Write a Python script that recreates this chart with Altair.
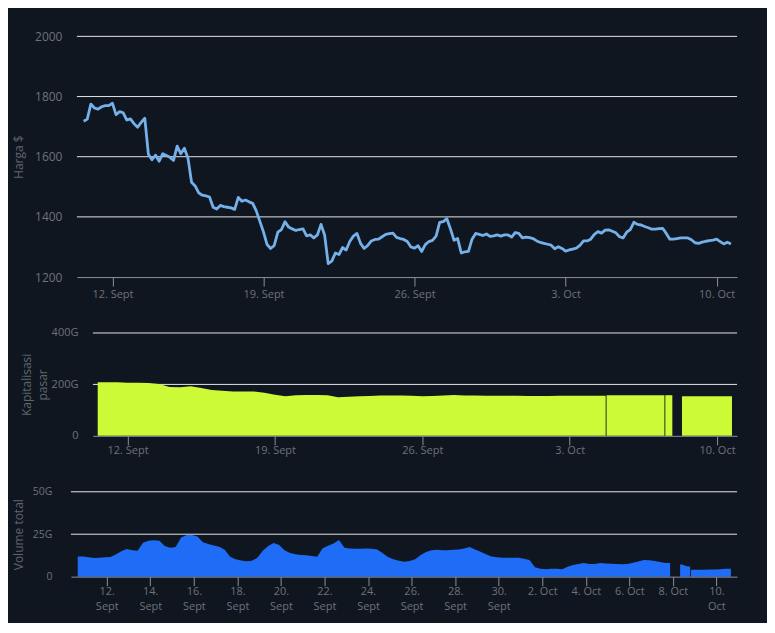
import altair as alt
import pandas as pd

# ---------------- data ----------------
price_start = "2022-09-10 16:00"   # 4-hourly samples
price_values = [
    1718, 1725, 1775, 1762, 1758, 1766, 1770, 1770, 1778, 1740,
    1750, 1746, 1722, 1726, 1710, 1698, 1714, 1728, 1608, 1590,
    1605, 1585, 1610, 1604, 1598, 1588, 1635, 1610, 1628, 1596,
    1515, 1503, 1480, 1472, 1470, 1466, 1432, 1426, 1438, 1434,
    1432, 1430, 1425, 1465, 1452, 1456, 1450, 1445, 1420, 1385,
    1350, 1308, 1295, 1305, 1349, 1358, 1384, 1366, 1360, 1355,
    1358, 1360, 1337, 1340, 1330, 1340, 1375, 1340, 1245, 1253,
    1280, 1275, 1298, 1290, 1318, 1336, 1345, 1312, 1295, 1305,
    1320, 1325, 1326, 1334, 1342, 1344, 1346, 1332, 1328, 1325,
    1318, 1300, 1296, 1304, 1285, 1308, 1318, 1322, 1336, 1382,
    1384, 1394, 1360, 1322, 1328, 1280, 1284, 1285, 1326, 1345,
    1342, 1338, 1343, 1335, 1337, 1340, 1336, 1340, 1340, 1333,
    1348, 1345, 1330, 1333, 1331, 1328, 1320, 1315, 1312, 1309,
    1306, 1294, 1301, 1295, 1286, 1290, 1293, 1296, 1305, 1320,
    1320, 1326, 1342, 1351, 1346, 1356, 1357, 1352, 1347, 1334,
    1330, 1349, 1358, 1382, 1375, 1373, 1368, 1364, 1359, 1359,
    1361, 1362, 1345, 1326, 1326, 1328, 1330, 1330, 1330, 1324,
    1314, 1312, 1316, 1319, 1321, 1323, 1326, 1318, 1310, 1316,
    1310,
]

mcap_start = "2022-09-10 12:00"    # 12-hourly samples, in G
mcap_values = [
    204, 208, 208, 206, 206, 205, 202, 190, 189, 193,
    186, 178, 175, 172, 172, 172, 168, 160, 154, 158,
    159, 159, 158, 150, 152, 154, 155, 157, 157, 157,
    156, 154, 155, 157, 159, 157, 157, 156, 156, 156,
    156, 155, 155, 155, 156, 156, 156, 156, 156, 158,
    158, 158, 158, 158, 158, None, 154, 154, 154, 154,
    154,
]
mcap_spans = [
    ("2022-09-10 14:00", "2022-10-04 17:00"),
    ("2022-10-04 18:00", "2022-10-07 12:00"),
    ("2022-10-07 13:00", "2022-10-07 21:00"),
    ("2022-10-08 08:00", "2022-10-10 17:00"),
]

vol_start = "2022-09-10 16:00"     # 6-hourly samples, in G
vol_values = [
    11.6, 11.8, 11.4, 11.0, 11.2, 11.4, 11.6, 13.0, 15.0, 16.3,
    15.6, 15.3, 20.0, 21.2, 21.4, 21.2, 18.0, 17.0, 17.4, 23.0,
    24.5, 24.6, 23.6, 20.2, 19.2, 18.4, 17.6, 15.8, 11.7, 10.2,
    9.5, 9.1, 9.3, 11.2, 15.3, 18.0, 19.8, 18.6, 15.6, 14.0,
    13.2, 12.8, 12.6, 12.2, 11.7, 16.8, 18.2, 19.6, 21.6, 17.0,
    16.6, 16.5, 16.5, 16.6, 16.5, 16.0, 14.0, 11.6, 10.3, 9.4,
    8.8, 9.2, 10.2, 12.8, 14.5, 15.6, 15.8, 15.6, 15.5, 15.8,
    16.0, 16.6, 17.4, 16.0, 14.6, 13.2, 11.8, 11.4, 11.2, 11.2,
    11.2, 11.2, 10.6, 9.8, 5.6, 4.6, 4.4, 4.6, 4.7, 4.4,
    5.8, 6.8, 7.4, 8.0, 7.5, 7.4, 8.0, 7.8, 7.6, 7.5,
    7.3, 7.4, 8.2, 9.0, 9.8, 9.6, 9.2, 8.6, 8.0, None,
    None, 7.2, 6.0, 4.1, 4.0, 4.1, 4.2, 4.2, 4.4, 4.6,
    5.0,
]
vol_spans = [
    ("2022-09-10 16:00", "2022-10-07 21:00"),
    ("2022-10-08 08:00", "2022-10-08 19:00"),
    ("2022-10-08 20:00", "2022-10-10 16:00"),
]

weekly_ticks = ["2022-09-12", "2022-09-19", "2022-09-26", "2022-10-03", "2022-10-10"]
twoday_ticks = ["2022-09-12", "2022-09-14", "2022-09-16", "2022-09-18", "2022-09-20",
                "2022-09-22", "2022-09-24", "2022-09-26", "2022-09-28", "2022-09-30",
                "2022-10-02", "2022-10-04", "2022-10-06", "2022-10-08", "2022-10-10"]
price_ticks = [1200, 1400, 1600, 1800, 2000]
mcap_ticks = [0, 200, 400]
vol_ticks = [0, 25, 50]

# ---------------- styling ----------------
BG = "#10161f"
GRID = "#e2e4e8"
AXIS = "#8b9099"
LAB = "#6d727b"
TIT = "#5f656e"
PRICE = "#74b0ea"
MCAP = "#cdfa37"
VOL = "#1f6cf7"
FONT = "Open Sans"
W = 667


def dt(s):
    t = pd.Timestamp(s)
    return alt.DateTime(year=t.year, month=t.month, date=t.day, hours=t.hour, minutes=t.minute)


X0 = dt("2022-09-10 08:30")
X1 = dt("2022-10-10 22:45")


def build_segments(start, freq, values, spans):
    times = pd.date_range(start, periods=len(values), freq=freq)
    valid = [(t, v) for t, v in zip(times, values) if v is not None]
    rows = []
    for si, (s, e) in enumerate(spans):
        s, e = pd.Timestamp(s), pd.Timestamp(e)
        inside = [(t, v) for t, v in valid if s < t < e]
        pool = inside if inside else valid

        def near(x):
            return min(pool, key=lambda tv: abs((tv[0] - x).total_seconds()))[1]

        rows.append((s, near(s), si))
        rows.extend((t, v, si) for t, v in inside)
        rows.append((e, near(e), si))
    return pd.DataFrame(rows, columns=["t", "v", "seg"])


price_df = pd.DataFrame({"t": pd.date_range(price_start, periods=len(price_values), freq="4h"),
                         "v": price_values})
mcap_df = build_segments(mcap_start, "12h", mcap_values, mcap_spans)
vol_df = build_segments(vol_start, "6h", vol_values, vol_spans)

MON = "(month(datum.value) == 8 ? 'Sept' : 'Oct')"
ONE_LINE = "date(datum.value) + '. ' + " + MON
TWO_LINE = ("date(datum.value) >= 10 ? [date(datum.value) + '.', " + MON + "] : "
            "date(datum.value) + '. ' + " + MON)


def panel(df, kind, yticks, height, xoff, xticks, xexpr, xpad, yexpr, ytitle,
          ysize, ypad, title_x):
    xscale = alt.Scale(domain=[X0, X1], range=[xoff, W])
    yscale = alt.Scale(domain=[yticks[0], yticks[-1]], nice=False, zero=False)
    xaxis = alt.Axis(values=[dt(v) for v in xticks], labelExpr=xexpr, title=None, grid=False,
                     domainColor=AXIS, tickColor=AXIS, tickSize=9, labelColor=LAB,
                     labelFontSize=11, labelPadding=xpad, labelOverlap=False,
                     labelFlush=False, labelBaseline="top", labelLineHeight=15, zindex=1)
    yaxis = alt.Axis(values=yticks, labelExpr=yexpr, title=ytitle, grid=False, domain=False,
                     ticks=False, tickSize=0, labelPadding=ypad, labelColor=LAB,
                     labelFontSize=ysize, labelBaseline="middle", titleColor=TIT,
                     titleFontSize=12, titleFontWeight="normal", titleX=title_x,
                     titleY=height / 2, titleAngle=270, titleAlign="center",
                     titleBaseline="middle", titleLineHeight=16)
    grid_df = pd.DataFrame({"v": yticks[1:]})
    grid = alt.Chart(grid_df).mark_rule(color=GRID, strokeWidth=1).encode(
        x=alt.XDatum(X0, type="temporal", scale=xscale, axis=xaxis),
        x2=alt.X2Datum(X1),
        y=alt.Y("v:Q", scale=yscale, axis=yaxis),
    )
    enc = dict(x=alt.X("t:T", scale=xscale, axis=xaxis),
               y=alt.Y("v:Q", scale=yscale, axis=yaxis, stack=None))
    if kind == "line":
        series = alt.Chart(df).mark_line(color=PRICE, strokeWidth=2.8,
                                         strokeJoin="round").encode(**enc)
    else:
        series = alt.Chart(df).mark_area(color=kind, opacity=1).encode(
            detail="seg:N", **enc)
    return alt.layer(grid, series).properties(width=W, height=height)


top = panel(price_df, "line", price_ticks, 241, 6, weekly_ticks, ONE_LINE, 2,
            "datum.value", "Harga $", 12, 9, -52)
mid = panel(mcap_df, MCAP, mcap_ticks, 103, 22, weekly_ticks, ONE_LINE, 0,
            "datum.value == 0 ? '0' : datum.value + 'G'", ["Kapitalisasi", "pasar"],
            11, -7, -44)
bot = panel(vol_df, VOL, vol_ticks, 85, 0, twoday_ticks, TWO_LINE, 0,
            "datum.value == 0 ? '0' : datum.value + 'G'", "Volume total", 10.5, 19, -52)

chart = alt.vconcat(top, mid, bot, spacing=56, bounds="flush").properties(
    background=BG,
    padding={"left": 5, "top": 22, "right": 29, "bottom": 11},
).configure_view(strokeWidth=0).configure_axis(labelFont=FONT, titleFont=FONT)

chart.save("out.html", embed_options={"renderer": "svg", "actions": False})
